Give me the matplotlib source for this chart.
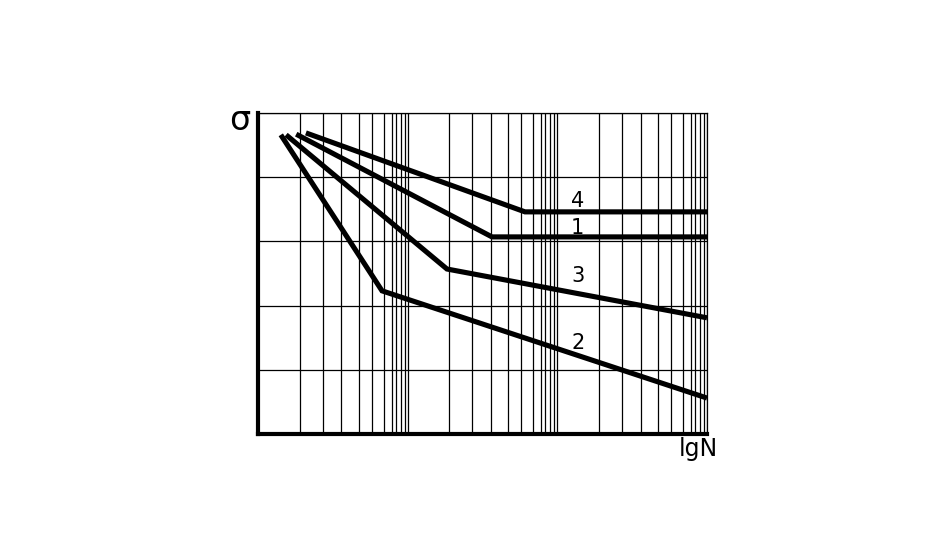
import numpy as np
import matplotlib.pyplot as plt
from matplotlib.ticker import LogLocator, NullFormatter, MultipleLocator

# curves (N on log axis, sigma in grid units)
n_1 = [1.80, 36.6, 1000]
s_1 = [4.67, 3.07, 3.07]
n_2 = [1.42, 6.74, 1000]
s_2 = [4.66, 2.23, 0.56]
n_3 = [1.54, 18.3, 1000]
s_3 = [4.66, 2.57, 1.81]
n_4 = [2.09, 60.8, 1000]
s_4 = [4.69, 3.46, 3.46]

labels = ["1", "2", "3", "4"]
label_n = [137, 137, 137, 137]
label_s = [3.21, 1.42, 2.46, 3.63]

# grid line positions inside each decade (as drawn, not exact log)
grid_subs = [1.9, 2.7, 3.6, 4.7, 5.75, 6.9, 7.8, 8.3, 9.0, 9.55]

fig = plt.figure(figsize=(9.26, 5.4), dpi=100)
ax = fig.add_axes([258/926, 106/540, 449/926, 321/540])

ax.set_xscale("log")
ax.set_xlim(1, 1000)
ax.set_ylim(0, 5)

ax.xaxis.set_major_locator(LogLocator(base=10, numticks=10))
ax.xaxis.set_minor_locator(LogLocator(base=10, subs=grid_subs, numticks=30))
ax.xaxis.set_major_formatter(NullFormatter())
ax.xaxis.set_minor_formatter(NullFormatter())
ax.yaxis.set_major_locator(MultipleLocator(1))
ax.yaxis.set_major_formatter(NullFormatter())
ax.tick_params(which="both", length=0)
ax.grid(True, which="both", color="black", linewidth=0.9)

for n, s in [(n_1, s_1), (n_2, s_2), (n_3, s_3), (n_4, s_4)]:
    ax.plot(n, s, color="black", linewidth=3.7, solid_capstyle="butt",
            solid_joinstyle="miter", clip_on=False, zorder=3)

for lab, x, y in zip(labels, label_n, label_s):
    ax.text(x, y, lab, fontsize=15, ha="center", va="center", zorder=4)

ax.spines["left"].set_linewidth(3)
ax.spines["bottom"].set_linewidth(3)
ax.spines["top"].set_linewidth(0.9)
ax.spines["right"].set_linewidth(0.9)

fig.text(240/926, 1 - 120/540, "σ", fontsize=24, ha="center", va="center")
fig.text(698/926, 1 - 449/540, "lgN", fontsize=17, ha="center", va="center")

fig.savefig("out.png", dpi=100, facecolor="white")
